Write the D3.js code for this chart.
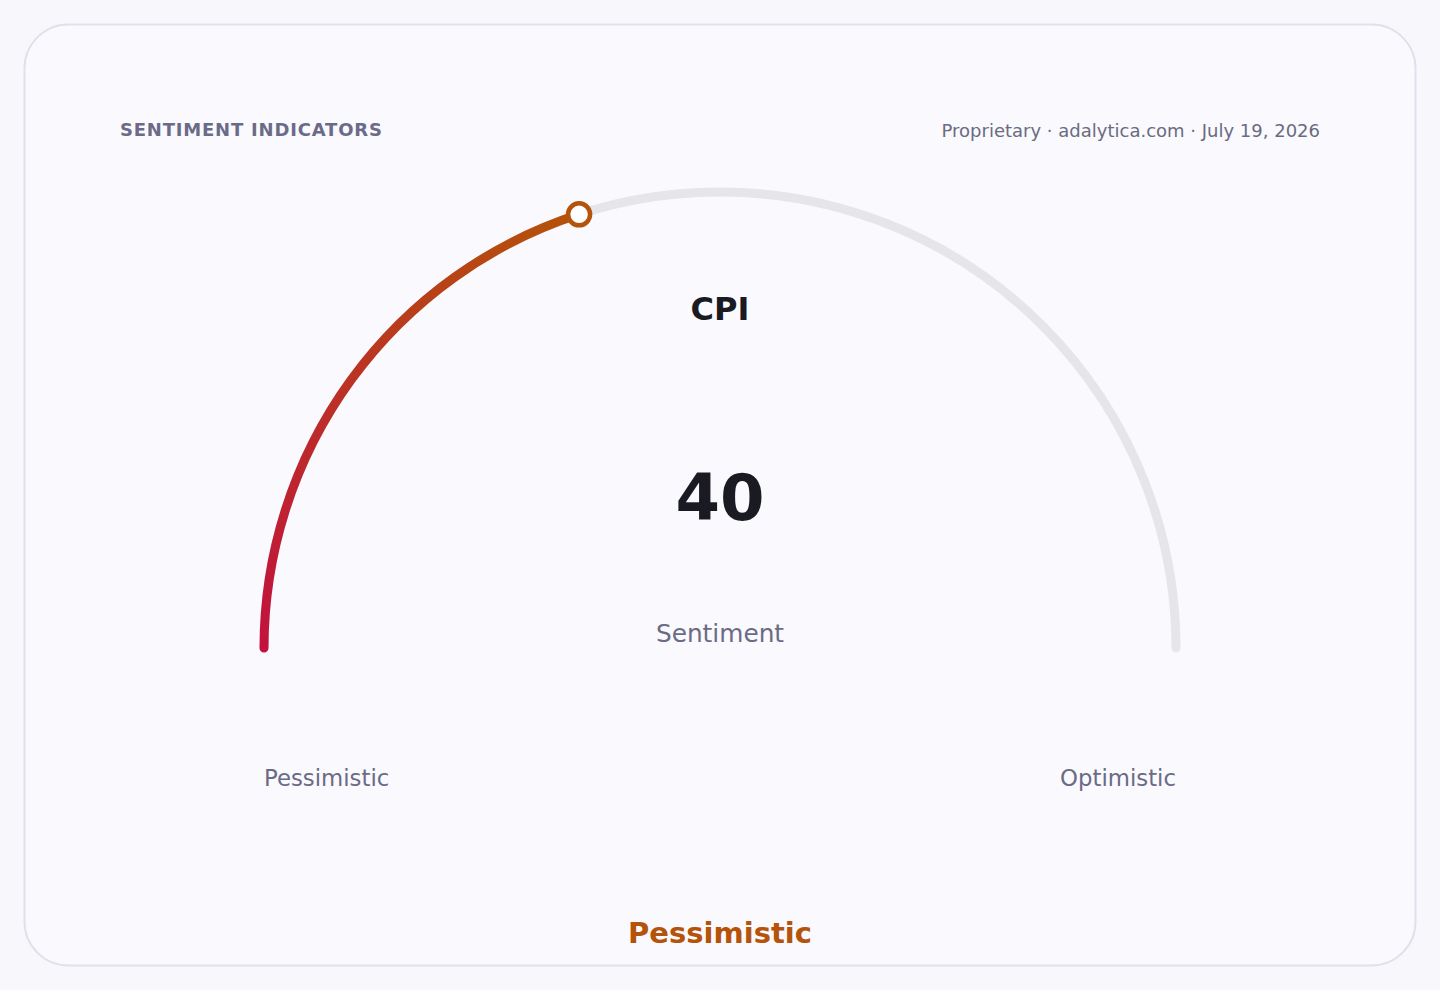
<!DOCTYPE html>
<html><head><meta charset="utf-8">
<script src="https://cdn.jsdelivr.net/npm/d3@7"></script>
<style>
html,body{margin:0;padding:0;background:#f7f7fc;}
svg{display:block;font-family:"DejaVu Sans",sans-serif;}
</style></head>
<body>
<svg id="chart" width="1440" height="990"></svg>
<script>
const title = "SENTIMENT INDICATORS";
const source = "Proprietary · adalytica.com · July 19, 2026";
const indicator = "CPI";
const value = [40];
const domain = [0, 100];
const endLabels = ["Pessimistic", "Optimistic"];
const unitLabel = "Sentiment";
const status = "Pessimistic";
const gradientColors = ["#c2123e", "#b45309"];

const svg = d3.select("#chart");
svg.append("rect").attr("x",24.5).attr("y",24.5).attr("width",1391).attr("height",941)
  .attr("rx",44).attr("fill","#f9f9fe").attr("stroke","#e1e1ec").attr("stroke-width",2);

svg.append("text").attr("x",120).attr("y",136).text(title)
  .attr("font-size",18).attr("font-weight","bold").attr("fill","#6b6b88").attr("letter-spacing",0.8);
svg.append("text").attr("x",1320).attr("y",137).attr("text-anchor","end").text(source)
  .attr("font-size",18).attr("fill","#6b6b80");

const cx = 720, cy = 648, R = 456;
const angle = d3.scaleLinear().domain(domain).range([Math.PI, 2*Math.PI]);
const g = svg.append("g").attr("transform",`translate(${cx},${cy})`);

function arcPath(v0, v1){
  const p = d3.path();
  const a0 = angle(v0), a1 = angle(v1);
  p.moveTo(R*Math.cos(a0), R*Math.sin(a0));
  p.arc(0, 0, R, a0, a1, false);
  return p.toString();
}
function pt(v){ const a = angle(v); return [R*Math.cos(a), R*Math.sin(a)]; }

// track
g.append("path").attr("d", arcPath(domain[0], domain[1]))
  .attr("fill","none").attr("stroke","#e5e5ea").attr("stroke-width",9).attr("stroke-linecap","round");

const p0 = pt(domain[0]), p1 = pt(value[0]);
const grad = svg.append("defs").append("linearGradient").attr("id","vg")
  .attr("gradientUnits","userSpaceOnUse")
  .attr("x1",p0[0]).attr("y1",p0[1]).attr("x2",p1[0]).attr("y2",p1[1]);
grad.selectAll("stop").data(gradientColors).join("stop")
  .attr("offset",(d,i)=>i/(gradientColors.length-1)).attr("stop-color",d=>d);

g.append("path").attr("d", arcPath(domain[0], value[0]))
  .attr("fill","none").attr("stroke","url(#vg)").attr("stroke-width",9).attr("stroke-linecap","round");

g.append("circle").attr("cx",p1[0]).attr("cy",p1[1]).attr("r",11)
  .attr("fill","#ffffff").attr("stroke",gradientColors[1]).attr("stroke-width",4.5);

svg.append("text").attr("x",cx).attr("y",320).attr("text-anchor","middle").text(indicator)
  .attr("font-size",32).attr("font-weight","bold").attr("fill","#1a1a22");
svg.append("text").attr("x",cx).attr("y",520).attr("text-anchor","middle").text(value[0])
  .attr("font-size",64).attr("font-weight","bold").attr("fill","#1a1a22");
svg.append("text").attr("x",cx).attr("y",642).attr("text-anchor","middle").text(unitLabel)
  .attr("font-size",24.8).attr("fill","#6b6b85");

svg.append("text").attr("x",cx+p0[0]).attr("y",786).text(endLabels[0])
  .attr("font-size",22.8).attr("fill","#6b6b85");
const pe = pt(domain[1]);
svg.append("text").attr("x",cx+pe[0]).attr("y",786).attr("text-anchor","end").text(endLabels[1])
  .attr("font-size",22.8).attr("fill","#6b6b85");

svg.append("text").attr("x",cx).attr("y",943).attr("text-anchor","middle").text(status)
  .attr("font-size",29).attr("font-weight","bold").attr("fill",gradientColors[1]);
</script>
</body></html>
